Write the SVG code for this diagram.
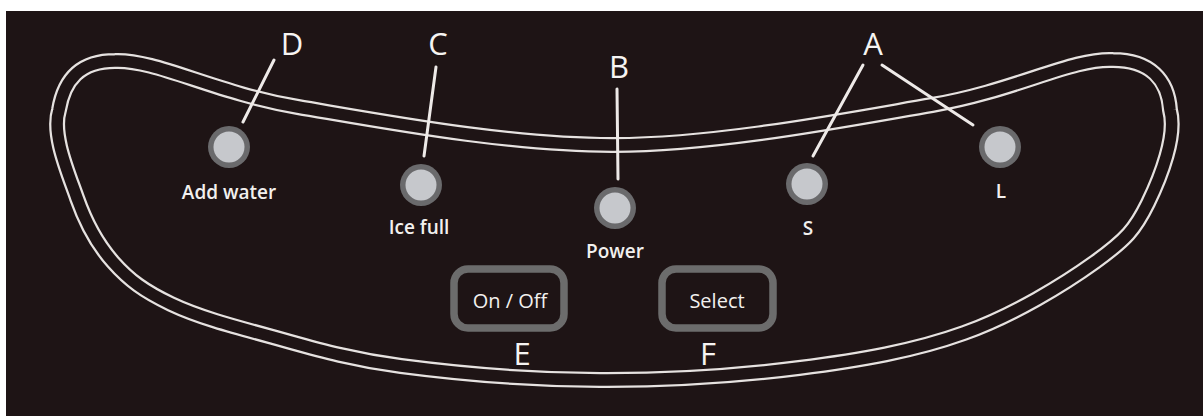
<svg xmlns="http://www.w3.org/2000/svg" width="1203" height="416" viewBox="0 0 1203 416">
<style>
.bg{fill:#1e1415}
.band-w{fill:none;stroke:#e6e2e0;stroke-width:16;stroke-linejoin:round}
.band-d{fill:none;stroke:#1e1415;stroke-width:11.5;stroke-linejoin:round}
.ring{fill:#6a6a6c}
.lens{fill:#c6c8cc}
.lbl{font-family:"Open Sans","Liberation Sans",sans-serif;font-size:19px;font-weight:600;fill:#f2f0ee;text-anchor:middle}
.ltr{font-family:"Open Sans","Liberation Sans",sans-serif;font-size:31px;font-weight:500;fill:#f6f4f2;text-anchor:middle}
.btn{fill:none;stroke:#6c6c6c;stroke-width:7.5}
.btxt{font-family:"Open Sans","Liberation Sans",sans-serif;font-size:20px;font-weight:500;fill:#f2f0ee;text-anchor:middle}
.lead{stroke:#eeeae8;stroke-width:3;stroke-linecap:round;fill:none}
</style>
<rect x="0" y="0" width="1203" height="416" fill="#ffffff"/>
<rect class="bg" x="6" y="11" width="1197" height="405"/>
<g id="panel">
<path id="outline" class="band-w" d="M115,61 C156.3,59.3 214.8,93 298,107 C381.2,121 509,145.3 614,145 C719,144.7 848.8,119.2 932,105 C1015.2,90.8 1071.8,58 1113,60 C1150,60 1168,80 1170,110 C1177,135.3 1160.8,176.8 1148,203 C1135.2,229.2 1126.3,239.5 1095,262 C1063.7,284.5 1014,315 964,333 C914,351 860.2,360.2 799,368 C737.8,375.8 666.7,380.3 600,380 C533.3,379.7 456.5,373.3 401,366 C345.5,358.7 307.8,346.5 269,336 C230.2,325.5 197.7,316.7 171,304 C144.3,291.3 129.2,280.3 113,262 C96.8,243.7 86.2,224.2 77,198 C67.8,171.8 51.5,134.3 59,110 C64,80 80,61 115,61 Z"/>
<path class="band-d" d="M115,61 C156.3,59.3 214.8,93 298,107 C381.2,121 509,145.3 614,145 C719,144.7 848.8,119.2 932,105 C1015.2,90.8 1071.8,58 1113,60 C1150,60 1168,80 1170,110 C1177,135.3 1160.8,176.8 1148,203 C1135.2,229.2 1126.3,239.5 1095,262 C1063.7,284.5 1014,315 964,333 C914,351 860.2,360.2 799,368 C737.8,375.8 666.7,380.3 600,380 C533.3,379.7 456.5,373.3 401,366 C345.5,358.7 307.8,346.5 269,336 C230.2,325.5 197.7,316.7 171,304 C144.3,291.3 129.2,280.3 113,262 C96.8,243.7 86.2,224.2 77,198 C67.8,171.8 51.5,134.3 59,110 C64,80 80,61 115,61 Z"/>
</g>
<g id="connectors">
<line class="lead" x1="274" y1="60" x2="243" y2="122"/>
<line class="lead" x1="436" y1="67" x2="424" y2="156"/>
<line class="lead" x1="617" y1="89" x2="618" y2="179"/>
<line class="lead" x1="863" y1="65" x2="813" y2="156"/>
<line class="lead" x1="882" y1="65" x2="973" y2="125"/>
</g>
<g id="led-add-water">
<circle class="ring" cx="229" cy="147" r="21"/>
<circle class="lens" cx="229" cy="147" r="15.5"/>
<text class="lbl" x="229" y="199">Add water</text>
</g>
<g id="led-ice-full">
<circle class="ring" cx="421" cy="185" r="21"/>
<circle class="lens" cx="421" cy="185" r="15.5"/>
<text class="lbl" x="419" y="234">Ice full</text>
</g>
<g id="led-power">
<circle class="ring" cx="615" cy="208" r="21"/>
<circle class="lens" cx="615" cy="208" r="15.5"/>
<text class="lbl" x="615" y="258">Power</text>
</g>
<g id="led-s">
<circle class="ring" cx="807" cy="184" r="21"/>
<circle class="lens" cx="807" cy="184" r="15.5"/>
<text class="lbl" x="808" y="235">S</text>
</g>
<g id="led-l">
<circle class="ring" cx="1000" cy="147" r="21"/>
<circle class="lens" cx="1000" cy="147" r="15.5"/>
<text class="lbl" x="1001" y="198">L</text>
</g>
<g id="btn-onoff">
<rect class="btn" x="454" y="269" width="110" height="59" rx="14"/>
<text class="btxt" x="510" y="308">On / Off</text>
</g>
<g id="btn-select">
<rect class="btn" x="662" y="269" width="111" height="59" rx="14"/>
<text class="btxt" x="717" y="308">Select</text>
</g>
<g id="callouts">
<text class="ltr" x="292" y="55">D</text>
<text class="ltr" x="438" y="55">C</text>
<text class="ltr" x="619" y="78">B</text>
<text class="ltr" x="873" y="55">A</text>
<text class="ltr" x="522" y="365">E</text>
<text class="ltr" x="708" y="365">F</text>
</g>
</svg>
